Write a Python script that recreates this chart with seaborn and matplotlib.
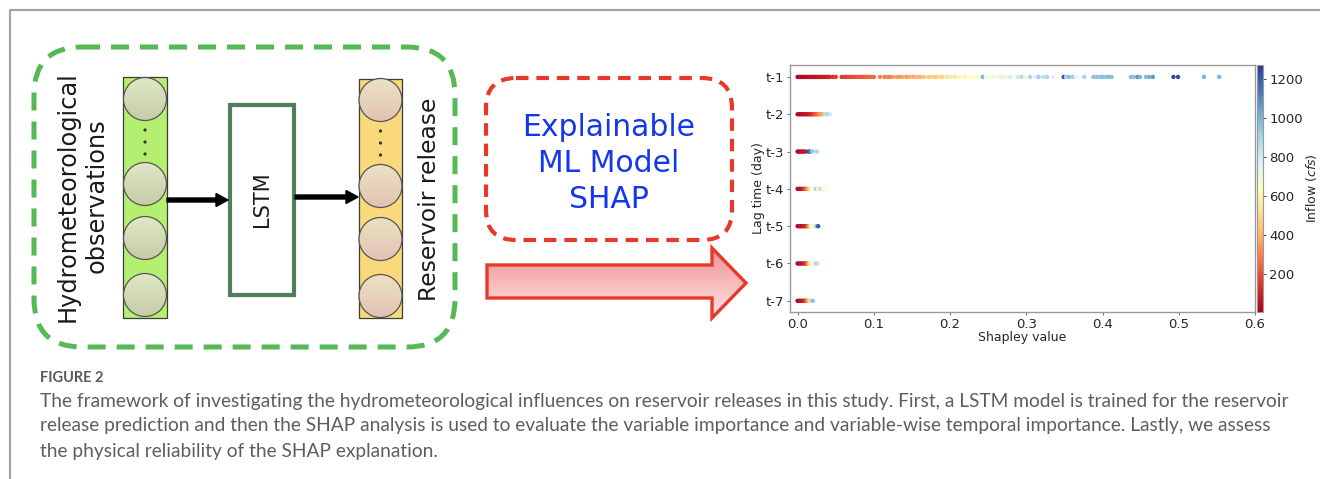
import numpy as np
import pandas as pd
import matplotlib
matplotlib.use("Agg")
import matplotlib.pyplot as plt
import seaborn as sns
from matplotlib import patches
from matplotlib.colors import Normalize, LinearSegmentedColormap
from matplotlib.cm import ScalarMappable

# ---------------- SHAP data: lag-wise Shapley values and inflow (cfs) ----------------
lags = ["t-1", "t-2", "t-3", "t-4", "t-5", "t-6", "t-7"]

shap_t1 = [0.000, 0.002, 0.004, 0.006, 0.008, 0.010, 0.012, 0.014, 0.016, 0.018, 0.020,
           0.022, 0.024, 0.026, 0.028, 0.030, 0.032, 0.034, 0.036, 0.038, 0.040, 0.042,
           0.046, 0.050, 0.058, 0.061, 0.064, 0.067, 0.070, 0.073, 0.076, 0.079, 0.082,
           0.085, 0.088, 0.091, 0.094, 0.097, 0.100, 0.108, 0.114, 0.118, 0.121, 0.125,
           0.130, 0.134, 0.138, 0.143, 0.147, 0.152, 0.157, 0.161, 0.166, 0.172, 0.177,
           0.181, 0.186, 0.190, 0.196, 0.200, 0.206, 0.212, 0.219, 0.225, 0.232, 0.238,
           0.243, 0.247, 0.252, 0.257, 0.263, 0.268, 0.274, 0.279, 0.284, 0.289, 0.294,
           0.299, 0.305, 0.311, 0.316, 0.322, 0.327, 0.335, 0.349, 0.352, 0.356, 0.361,
           0.365, 0.376, 0.388, 0.392, 0.396, 0.400, 0.404, 0.408, 0.412, 0.437, 0.441,
           0.446, 0.449, 0.457, 0.461, 0.466, 0.493, 0.499, 0.533, 0.553]
inflow_t1 = [30, 25, 40, 20, 35, 50, 30, 45, 60, 40, 55,
             70, 50, 65, 80, 60, 75, 90, 70, 100, 85, 110,
             130, 150, 140, 170, 160, 185, 175, 200, 190, 210, 220,
             205, 230, 245, 235, 260, 250, 300, 280, 320, 300, 340,
             360, 330, 380, 350, 390, 370, 410, 400, 430, 440, 470,
             450, 500, 480, 520, 560, 540, 600, 580, 640, 620, 660,
             1000, 700, 680, 720, 690, 760, 700, 800, 650, 820, 880,
             690, 900, 760, 920, 850, 900, 740, 1230, 900, 960, 920,
             740, 900, 950, 960, 940, 970, 950, 980, 960, 970, 960,
             1080, 1000, 980, 1000, 1060, 1240, 1230, 1000, 990]

shap_t2 = [0.000, 0.002, 0.004, 0.006, 0.008, 0.010, 0.012, 0.014, 0.016, 0.018,
           0.020, 0.022, 0.024, 0.026, 0.028, 0.030, 0.033, 0.036, 0.039, 0.042]
inflow_t2 = [20, 40, 30, 50, 60, 45, 80, 70, 100, 120,
             150, 180, 220, 260, 300, 350, 380, 850, 900, 820]

shap_t3 = [0.000, 0.002, 0.004, 0.006, 0.008, 0.010, 0.014, 0.016, 0.019, 0.025]
inflow_t3 = [20, 40, 30, 60, 50, 80, 1250, 1150, 950, 900]

shap_t4 = [0.000, 0.002, 0.004, 0.006, 0.008, 0.010, 0.012, 0.015, 0.018, 0.021,
           0.024, 0.027, 0.030, 0.033, 0.038]
inflow_t4 = [30, 50, 40, 80, 120, 200, 300, 450, 600, 650,
             900, 620, 880, 700, 640]

shap_t5 = [0.000, 0.002, 0.004, 0.006, 0.008, 0.010, 0.012, 0.014, 0.016, 0.018,
           0.020, 0.023, 0.025, 0.027]
inflow_t5 = [20, 40, 60, 50, 80, 100, 150, 300, 450, 600,
             650, 800, 950, 1200]

shap_t6 = [0.000, 0.002, 0.004, 0.006, 0.008, 0.010, 0.012, 0.014, 0.016, 0.018,
           0.021, 0.024, 0.026]
inflow_t6 = [20, 40, 60, 50, 90, 120, 200, 350, 500, 620,
             650, 900, 850]

shap_t7 = [0.000, 0.002, 0.004, 0.006, 0.008, 0.010, 0.012, 0.014, 0.016, 0.018, 0.020]
inflow_t7 = [20, 40, 60, 50, 90, 150, 250, 380, 500, 850, 950]

x_ticks = [0.0, 0.1, 0.2, 0.3, 0.4, 0.5, 0.6]
cbar_ticks = [200, 400, 600, 800, 1000, 1200]
inflow_range = (5, 1270)

caption_title = "FIGURE 2"
caption_lines = [
    "The framework of investigating the hydrometeorological influences on reservoir releases in this study. First, a LSTM model is trained for the reservoir",
    "release prediction and then the SHAP analysis is used to evaluate the variable importance and variable-wise temporal importance. Lastly, we assess",
    "the physical reliability of the SHAP explanation.",
]

all_shap = [shap_t1, shap_t2, shap_t3, shap_t4, shap_t5, shap_t6, shap_t7]
all_inflow = [inflow_t1, inflow_t2, inflow_t3, inflow_t4, inflow_t5, inflow_t6, inflow_t7]
frames = []
for lag, s, q in zip(lags, all_shap, all_inflow):
    frames.append(pd.DataFrame({"lag": lag, "shap": s, "inflow": q}))
df = pd.concat(frames, ignore_index=True)
df["pos"] = df["lag"].map({k: i for i, k in enumerate(lags)})

# ---------------- figure ----------------
sns.set_style("white")
plt.rcParams["font.family"] = ["DejaVu Sans"]

W, H = 1320, 479
fig = plt.figure(figsize=(W / 100, H / 100), dpi=100)
fig.patch.set_facecolor("white")

# full-figure canvas in pixel units for the schematic
bg = fig.add_axes([0, 0, 1, 1])
bg.set_xlim(0, W)
bg.set_ylim(H, 0)
bg.axis("off")


def gradient_fill(ax, patch, extent, c_top, c_bottom, z=2):
    cmap = LinearSegmentedColormap.from_list("g", [c_top, c_bottom])
    grad = np.linspace(0, 1, 256).reshape(-1, 1)
    im = ax.imshow(grad, extent=extent, cmap=cmap, aspect="auto", zorder=z,
                   interpolation="bicubic")
    im.set_clip_path(patch)


# outer frame
bg.plot([10, 10, W], [H, 10, 10], color="#a6a6a6", lw=1.6, zorder=1)

# green dashed container
green = "#55b955"
bg.add_patch(patches.FancyBboxPatch((34, 47), 421, 300,
                                    boxstyle="round,pad=0,rounding_size=48",
                                    fill=False, ec=green, lw=3.6,
                                    linestyle=(0, (3.6, 2.2)), zorder=2))

# input and output layers
bg.add_patch(patches.Rectangle((123, 77), 44, 241, fc="#b5ef6f", ec="#3c3c3c", lw=0.9, zorder=3))
bg.add_patch(patches.Rectangle((359, 79), 43, 239, fc="#f9d97c", ec="#3c3c3c", lw=0.9, zorder=3))

for cx, ys, ctop, cbot in [(145, [99, 184, 238, 295], "#dfe9c6", "#c6cba6"),
                           (380.5, [100, 186, 239, 296], "#ece2c2", "#e2c2b4")]:
    for cy in ys:
        circ = patches.Circle((cx, cy), 21.5, fc="none", ec="#555555", lw=0.9, zorder=5)
        bg.add_patch(circ)
        gradient_fill(bg, circ, [cx - 22, cx + 22, cy + 22, cy - 22], ctop, cbot, z=4)
    for dy in [130, 142, 154]:
        bg.add_patch(patches.Circle((cx, dy + (ys[0] - 99)), 1.6, fc="#333333", ec="none", zorder=5))

diag_font = ["DejaVu Sans"]
text_col = "#1a1a1a"

# LSTM block
bg.add_patch(patches.Rectangle((230, 105), 64, 190, fc="white", ec="#4f7f5c", lw=3.0, zorder=3))
bg.text(262, 199, "LSTM", rotation=90, ha="center", va="center", fontsize=15,
        family=diag_font, color=text_col, zorder=6)

# black arrows
bg.add_patch(patches.FancyArrow(167, 200, 61, 0, width=4, head_width=13, head_length=12,
                                length_includes_head=True, fc="black", ec="black", zorder=6))
bg.add_patch(patches.FancyArrow(295, 197, 63, 0, width=4, head_width=13, head_length=12,
                                length_includes_head=True, fc="black", ec="black", zorder=6))

# rotated labels
bg.text(68, 197, "Hydrometeorological", rotation=90, ha="center", va="center",
        fontsize=17.3, family=diag_font, color=text_col)
bg.text(97, 196, "observations", rotation=90, ha="center", va="center",
        fontsize=17.3, family=diag_font, color=text_col)
bg.text(430, 199, "Reservoir release", rotation=90, ha="center", va="center",
        fontsize=16.8, family=diag_font, color=text_col)

# red dashed box with explanation text
red = "#e8382b"
bg.add_patch(patches.FancyBboxPatch((486, 78), 246, 162,
                                    boxstyle="round,pad=0,rounding_size=30",
                                    fill=False, ec=red, lw=3.0,
                                    linestyle=(0, (3.0, 1.9)), zorder=2))
for ty, t in zip([127, 164, 200], ["Explainable", "ML Model", "SHAP"]):
    bg.text(609, ty, t, ha="center", va="center", fontsize=21.5, family=diag_font,
            color="#1437ea")

# big red arrow with gradient fill
arrow_pts = [(487, 265), (712, 265), (712, 248), (746, 283), (712, 318), (712, 298), (487, 298)]
big_arrow = patches.Polygon(arrow_pts, closed=True, fc="none", ec=red, lw=2.4, zorder=4,
                            joinstyle="miter")
bg.add_patch(big_arrow)
gradient_fill(bg, big_arrow, [487, 746, 318, 248], "#f08f8f", "#fde6e6", z=3)

# caption
bg.text(40, 378, caption_title, ha="left", va="center", fontsize=10.5,
        family=["Lato", "DejaVu Sans"], fontweight="bold", color="#5a5a5a")
for i, line in enumerate(caption_lines):
    bg.text(40, 401 + 25 * i, line, ha="left", va="center", fontsize=13.75,
            family=["Lato", "DejaVu Sans"], color="#5e5e5e")

# ---------------- SHAP scatter ----------------
ax = fig.add_axes([790 / W, 1 - 312 / H, 465 / W, 247 / H])
sns.scatterplot(data=df, x="shap", y="pos", hue="inflow", palette="RdYlBu",
                hue_norm=inflow_range, s=10, linewidth=0, legend=False, ax=ax, zorder=3)
ax.set_xlim(-0.01, 0.6)
ax.set_ylim(6.3, -0.32)
ax.set_yticks(range(len(lags)))
ax.set_yticklabels(lags)
ax.set_xticks(x_ticks)
ax.set_xticklabels([f"{v:.1f}" for v in x_ticks])
ax.set_xlabel("Shapley value", fontsize=9, labelpad=0)
ax.set_ylabel("Lag time (day)", fontsize=9, labelpad=0)
ax.tick_params(axis="both", labelsize=9.5, length=2.5, width=0.6, color="#555555", pad=2,
               left=True, bottom=True)
for sp in ax.spines.values():
    sp.set_color("#9a9a9a")
    sp.set_linewidth(1.0)

cax = fig.add_axes([1256.5 / W, 1 - 312 / H, 6.5 / W, 247 / H])
sm = ScalarMappable(norm=Normalize(*inflow_range), cmap="RdYlBu")
cb = fig.colorbar(sm, cax=cax)
cb.set_ticks(cbar_ticks)
cb.ax.tick_params(labelsize=9.5, length=2.5, width=0.6, pad=2)
cb.outline.set_edgecolor("#9a9a9a")
cb.set_label("Inflow ($cfs$)", fontsize=9, labelpad=1)

fig.savefig("out.png", dpi=100, facecolor="white")
